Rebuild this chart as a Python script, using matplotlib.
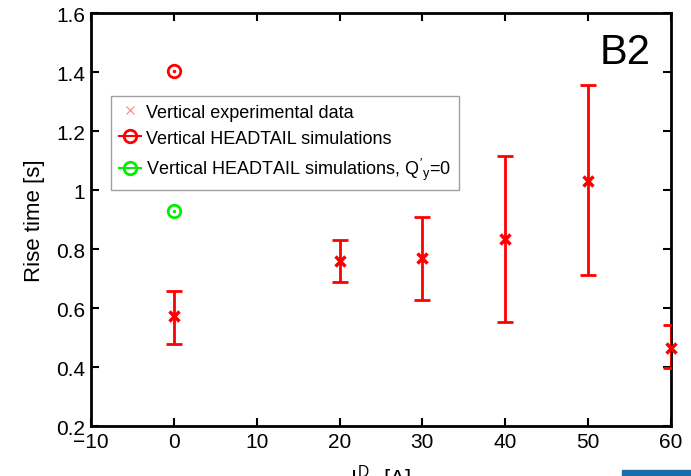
import matplotlib
matplotlib.use('Agg')
import matplotlib.pyplot as plt
from matplotlib.patches import Rectangle

plt.rcParams['font.family'] = ['Liberation Sans', 'DejaVu Sans']
plt.rcParams['mathtext.fontset'] = 'custom'
plt.rcParams['mathtext.rm'] = 'Liberation Sans'
plt.rcParams['mathtext.it'] = 'Liberation Sans'

# experimental data
exp_current = [0, 20, 30, 40, 50, 60]
exp_rise = [0.572, 0.760, 0.770, 0.834, 1.032, 0.465]
exp_upper = [0.659, 0.829, 0.907, 1.117, 1.355, 0.543]
exp_lower = [0.479, 0.688, 0.628, 0.551, 0.713, 0.397]

# simulations
sim_current = [0]
sim_rise = [1.403]
sim_q0_current = [0]
sim_q0_rise = [0.928]

err_lo = [r - lo for r, lo in zip(exp_rise, exp_lower)]
err_hi = [hi - r for r, hi in zip(exp_rise, exp_upper)]

fig = plt.figure(figsize=(6.91, 4.77), dpi=100)
ax = fig.add_axes([0.1317, 0.1048, 0.8393, 0.8658])

ax.errorbar(exp_current, exp_rise, yerr=[err_lo, err_hi], fmt='none',
            ecolor='#ff0000', elinewidth=2, capsize=6, capthick=2, zorder=3)
ax.plot(exp_current, exp_rise, 'x', color='#ff0000', ms=7, mew=2.5, clip_on=False, zorder=4)

# legend proxies
h1, = ax.plot([], [], 'x', color='#ff9999', ms=6, mew=1,
              label='Vertical experimental data')
h2, = ax.plot(sim_current, sim_rise, '-o', color='#ff0000', ms=9, mew=2,
              mfc='none', label='Vertical HEADTAIL simulations')
ax.plot(sim_current, sim_rise, '.', color='#ff0000', ms=3)
h3, = ax.plot(sim_q0_current, sim_q0_rise, '-o', color='#00ee00', ms=9, mew=2,
              mfc='none', label="Vertical HEADTAIL simulations, $Q'_y$=0")
ax.plot(sim_q0_current, sim_q0_rise, '.', color='#00ee00', ms=3)

ax.set_xlim(-10, 60)
ax.set_ylim(0.2, 1.6)
ax.set_xticks(range(-10, 61, 10))
ax.set_xticklabels(['\u221210', '0', '10', '20', '30', '40', '50', '60'])
ax.set_yticks([0.2, 0.4, 0.6, 0.8, 1.0, 1.2, 1.4, 1.6])
ax.set_yticklabels(['0.2', '0.4', '0.6', '0.8', '1', '1.2', '1.4', '1.6'])
ax.tick_params(direction='in', labelsize=15, length=6, width=1.5,
               top=True, right=True, pad=4)
for s in ax.spines.values():
    s.set_linewidth(2)

ax.set_ylabel('Rise time [s]', fontsize=16, labelpad=8)
ax.set_xlabel(r'$I^{D}_{oct}$ [A]', fontsize=16, labelpad=8)

ax.text(0.965, 0.955, 'B2', transform=ax.transAxes, fontsize=30,
        ha='right', va='top')

leg = ax.legend(handles=[h1, h2, h3], loc='upper left',
                bbox_to_anchor=(0.034, 0.80), fontsize=13, frameon=True,
                fancybox=False, handlelength=1.2, handletextpad=0.3,
                borderpad=0.45, labelspacing=0.5, borderaxespad=0)
leg.get_frame().set_edgecolor('#888888')
leg.get_frame().set_linewidth(1)

fig.patches.append(Rectangle((0.9, 0.0), 0.1, 0.012, transform=fig.transFigure,
                             color='#1a6ea8', zorder=10))

plt.savefig('out.png', dpi=100)
plt.close()
